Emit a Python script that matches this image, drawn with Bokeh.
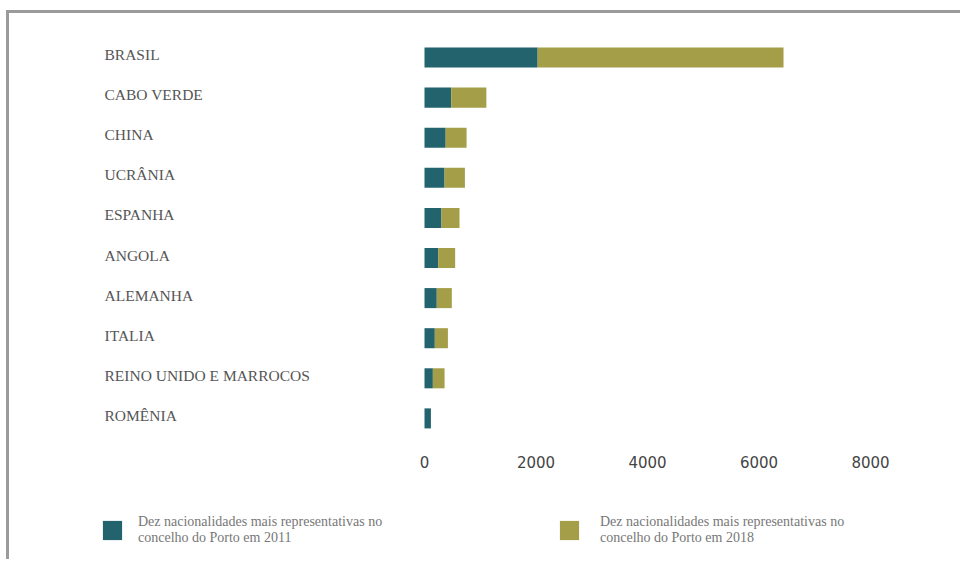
from bokeh.plotting import figure
from bokeh.models import (ColumnDataSource, Range1d, LabelSet, FixedTicker, Legend,
                          LegendItem, LinearAxis)
from bokeh.embed import file_html
from bokeh.resources import INLINE

# ---- data ----
countries = ["BRASIL", "CABO VERDE", "CHINA", "UCRÂNIA", "ESPANHA", "ANGOLA",
             "ALEMANHA", "ITALIA", "REINO UNIDO E MARROCOS", "ROMÊNIA"]
v2011 = [2030, 480, 380, 360, 305, 245, 220, 185, 150, 115]
v2018 = [4410, 630, 375, 365, 323, 305, 270, 235, 210, 0]
x_ticks = [0, 2000, 4000, 6000, 8000]
series_names = [
    "Dez nacionalidades mais representativas no\nconcelho do Porto em 2011",
    "Dez nacionalidades mais representativas no\nconcelho do Porto em 2018",
]
series_colors = ["#23636e", "#a49e49"]

# ---- geometry (pixels) ----
W, H = 954, 549
top_border = 30
ppu = (870 - 424) / 8000.0          # pixels per unit along x
zero_px = 415                        # canvas x of value 0
x0 = -zero_px / ppu
x1 = (W - zero_px) / ppu
row_px = 40.1                        # pixels per category row
first_row_px = 44 - top_border       # first row centre below frame top
n = len(countries)
ypos = [n - 1 - i for i in range(n)]
y_end = (n - 1) + first_row_px / row_px
y_start = y_end - (H - top_border) / row_px
axis_y = -(471.5 - 418) / row_px     # axis baseline a bit below last row
label_x = (95 - zero_px) / ppu

src = ColumnDataSource(dict(
    y=ypos,
    country=countries,
    v2011=v2011,
    v2018=v2018,
    lx=[label_x] * n,
))

p = figure(width=W, height=H, output_backend="svg", toolbar_location=None,
           x_range=Range1d(x0, x1), y_range=Range1d(y_start, y_end),
           x_axis_location=None, y_axis_location=None,
           min_border_left=0, min_border_right=0,
           min_border_top=top_border, min_border_bottom=0)
p.styles = {"margin-left": "6px", "margin-top": "10px",
            "border-left": "3px solid #9b9b9b", "border-top": "3px solid #9b9b9b"}
p.outline_line_color = None
p.background_fill_color = "white"
p.border_fill_color = "white"
p.grid.visible = False

rs = p.hbar_stack(["v2011", "v2018"], y="y", height=0.5, color=series_colors,
                  line_color=None, source=src)

xaxis = LinearAxis(ticker=FixedTicker(ticks=x_ticks), fixed_location=axis_y,
                   axis_line_color=None, major_tick_line_color=None,
                   minor_tick_line_color=None, major_tick_out=0, major_tick_in=0,
                   major_label_standoff=4, major_label_text_font="DejaVu Sans",
                   major_label_text_font_size="15px",
                   major_label_text_color="#444444")
p.add_layout(xaxis, "above")

labels = LabelSet(x="lx", y="y", text="country", source=src, text_align="left",
                  text_baseline="middle", text_font="Liberation Serif",
                  text_font_size="15.5px", text_color="#555555", y_offset=3)
p.add_layout(labels)

for i, (r, name) in enumerate(zip(rs, series_names)):
    lg = Legend(items=[LegendItem(label=name, renderers=[r])],
                location=(91 if i == 0 else 548, 16),
                orientation="horizontal", padding=0, margin=0,
                border_line_color=None, background_fill_alpha=0,
                glyph_width=24, glyph_height=24,
                label_standoff=14 if i == 0 else 19,
                label_text_font="Liberation Serif", label_text_font_size="14px",
                label_text_color="#777777", label_text_line_height=1.29)
    p.add_layout(lg, "center")

open("out.html", "w").write(file_html(p, INLINE))
